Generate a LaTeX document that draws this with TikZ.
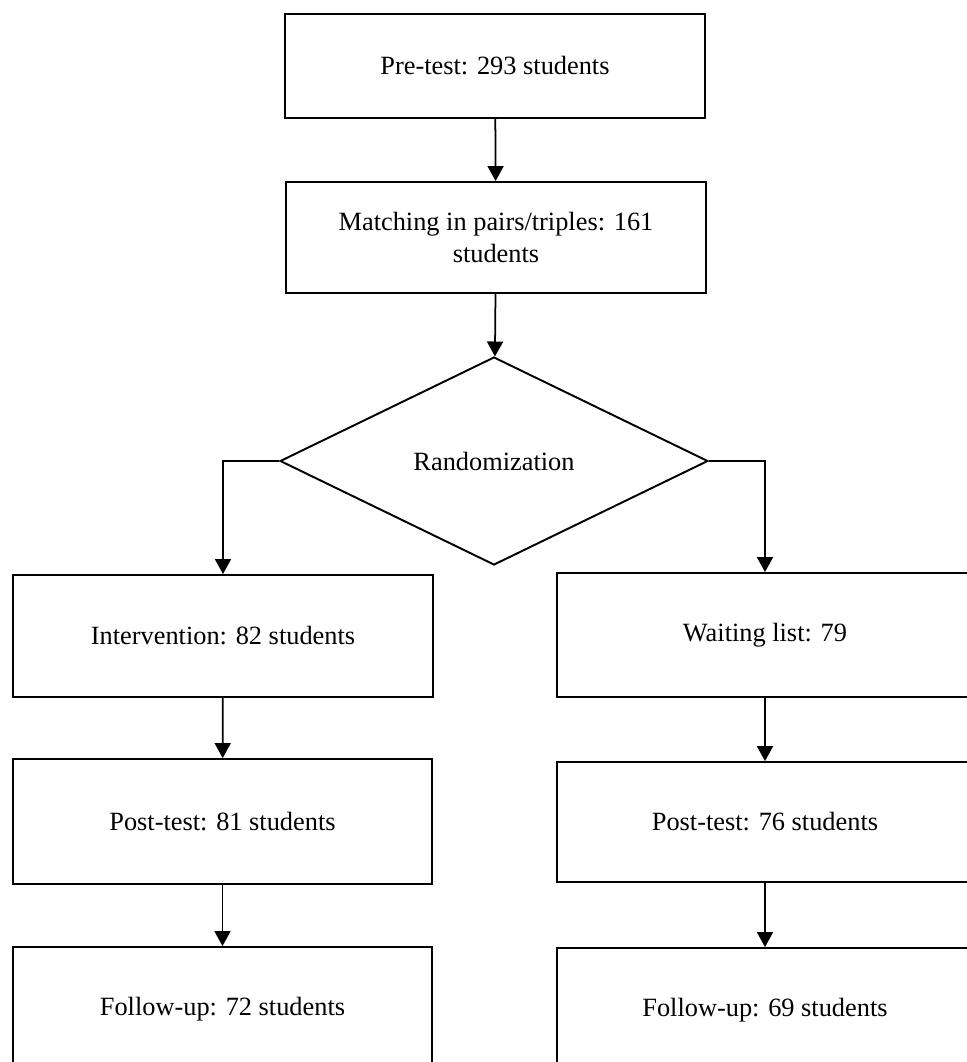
\documentclass[tikz,border=0pt]{standalone}
\usepackage{fontspec}
\setmainfont{Liberation Serif}
\usetikzlibrary{shapes.geometric,arrows.meta}

\begin{document}
\begin{tikzpicture}[x=0.02cm,y=-0.02cm,
	box/.style={draw,line width=1.1pt,minimum width=8.4cm,align=center,inner sep=0pt},
	arr/.style={-{Triangle[length=0.3cm,width=0.32cm]},line width=1pt},
	font=\fontsize{15}{18.7}\selectfont]
	\useasboundingbox (0,0) rectangle (967,1062);
	\clip (0,0) rectangle (967,1062);
	
	\node[box,minimum height=2.08cm] (pre) at (495,66){Pre-test: 293 students};
	\node[box,minimum height=2.22cm] (match) at (496,237.5){Matching in pairs/triples: 161\\students};
	\node[draw,line width=1.1pt,diamond,aspect=2,inner sep=0pt,minimum width=8.56cm,minimum height=4.16cm] (rand) at (494,461){Randomization};
	
	\node[box,minimum height=2.44cm] (int) at (223,636){Intervention: 82 students};
	\node[box,minimum height=2.5cm] (postA) at (222.5,821.5){Post-test: 81 students};
	\node[box,minimum height=2.5cm] (fuA) at (222.5,1009.5){Follow-up: 72 students};
	
	\node[box,minimum width=8.32cm,minimum height=2.48cm] (wait) at (765,635){Waiting list: 79};
	\node[box,minimum width=8.32cm,minimum height=2.4cm] (postB) at (765,822){Post-test: 76 students};
	\node[box,minimum width=8.32cm,minimum height=2.5cm] (fuB) at (765,1010.5){Follow-up: 69 students};
	
	\draw[arr] (pre) -- (match);
	\draw[arr] (match) -- (rand);
	\draw[arr] (rand.west) -| (int.north);
	\draw[arr] (rand.east) -| (wait.north);
	\draw[arr] (int) -- (postA);
	\draw[arr] (postA) -- (fuA);
	\draw[arr] (wait) -- (postB);
	\draw[arr] (postB) -- (fuB);
	
\end{tikzpicture}
\end{document}
